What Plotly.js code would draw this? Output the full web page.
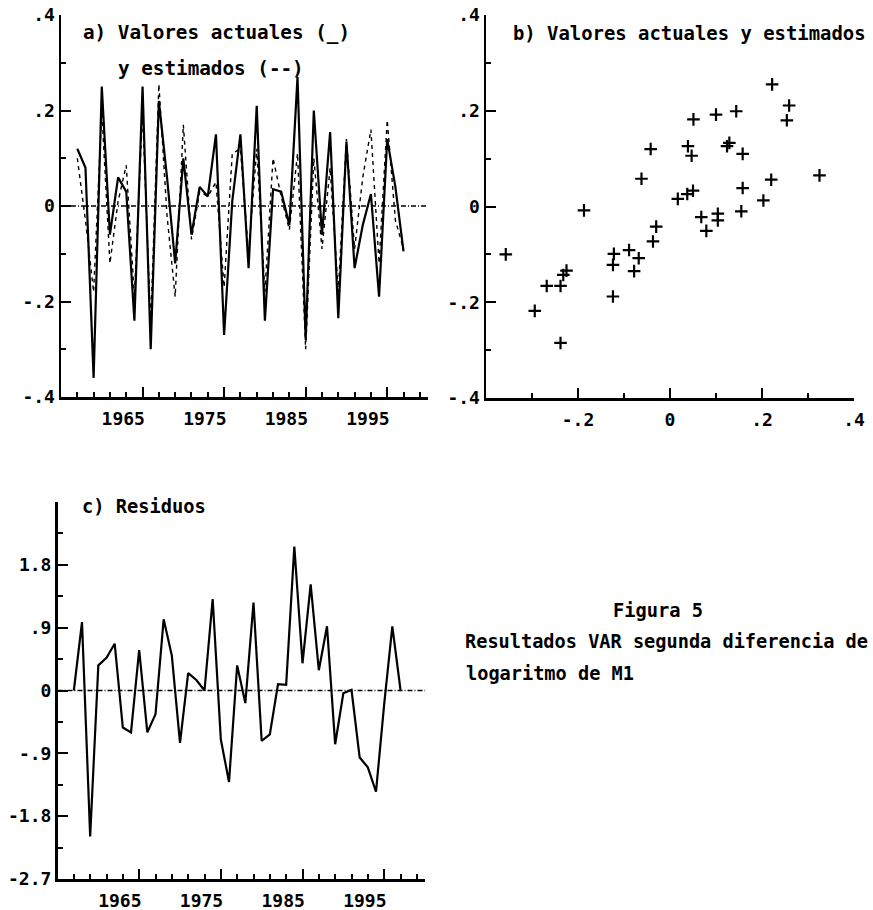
<!DOCTYPE html>
<html><head><meta charset="utf-8">
<script src="https://cdn.plot.ly/plotly-3.0.1.min.js"></script>
<style>html,body{margin:0;padding:0;background:#fff}#chart{width:873px;height:910px}</style>
</head><body><div id="chart"></div>
<script>
// ---------- data ----------
const years = [1959,1960,1961,1962,1963,1964,1965,1966,1967,1968,1969,1970,1971,1972,1973,1974,1975,1976,1977,1978,1979,1980,1981,1982,1983,1984,1985,1986,1987,1988,1989,1990,1991,1992,1993,1994,1995,1996,1997,1998,1999];

const actual = [0.12,0.08,-0.36,0.25,-0.06,0.06,0.03,-0.24,0.25,-0.30,0.22,0.06,-0.12,0.10,-0.06,0.04,0.02,0.15,-0.27,0.01,0.15,-0.13,0.21,-0.24,0.035,0.03,-0.04,0.27,-0.28,0.20,-0.06,0.155,-0.235,0.135,-0.13,-0.04,0.025,-0.19,0.14,0.04,-0.095];

const estimated = [0.10,-0.03,-0.18,0.20,-0.12,0.01,0.085,-0.19,0.20,-0.25,0.255,-0.02,-0.19,0.17,-0.07,0.03,0.02,0.05,-0.17,0.11,0.12,-0.10,0.12,-0.18,0.10,0.02,-0.05,0.11,-0.30,0.10,-0.09,0.08,-0.18,0.14,-0.09,0.06,0.16,-0.12,0.18,-0.03,-0.09];

const residuals = [0,0.98,-2.09,0.36,0.47,0.67,-0.53,-0.6,0.58,-0.6,-0.34,1.02,0.5,-0.75,0.25,0.15,0,1.31,-0.7,-1.31,0.36,-0.18,1.26,-0.72,-0.63,0.09,0.08,2.06,0.39,1.52,0.29,0.92,-0.77,-0.04,0.01,-0.96,-1.1,-1.45,-0.2,0.92,0.01];

const scatterActual = [-0.187,-0.062,-0.042,0.017,0.0375,0.050,0.039,0.047,0.051,0.068,0.100,0.104,0.104,0.124,0.129,0.144,0.158,0.158,0.155,0.203,0.220,0.222,0.254,0.259,0.325,-0.357,-0.294,-0.268,-0.238,-0.238,-0.232,-0.225,-0.124,-0.124,-0.122,-0.089,-0.078,-0.068,-0.037,-0.030,0.079];
const scatterEstimated = [-0.008,0.058,0.120,0.016,0.026,0.033,0.126,0.106,0.182,-0.022,0.192,-0.015,-0.029,0.126,0.133,0.199,0.110,0.0385,-0.010,0.0126,0.056,0.255,0.180,0.211,0.065,-0.100,-0.218,-0.166,-0.166,-0.285,-0.143,-0.134,-0.188,-0.122,-0.099,-0.091,-0.135,-0.108,-0.073,-0.042,-0.051];

// tick labels
const yearTickVals = [1959,1961,1963,1965,1969,1971,1973,1975,1979,1981,1983,1985,1989,1991,1993,1995,1999,2001];
const yearTickText = ['','','','1965','','','','1975','','','','1985','','','','1995','',''];
const yearTallTicks = [1967,1977,1987,1997];

const ab_TickVals = [-0.4,-0.2,0,0.2,0.4];
const ab_TickText = ['-.4','-.2','0','.2','.4'];
const ab_MinorVals = [-0.3,-0.1,0.1,0.3];
const bx_TickVals = [-0.2,0,0.2,0.4];
const bx_TickText = ['-.2','0','.2','.4'];
const c_TickVals = [-2.7,-1.8,-0.9,0,0.9,1.8];
const c_TickText = ['-2.7','-1.8','-.9','0','.9','1.8'];
const c_MinorVals = [-2.25,-1.35,-0.45,0.45,1.35,2.25];

// ---------- layout helpers ----------
const W = 873, H = 910;
const px = v => v / W;
const py = v => 1 - v / H;
const tickFont = {family: 'DejaVu Sans Mono, monospace', size: 18, color: '#000', weight: 'bold'};
const txtFont = s => ({family: 'DejaVu Sans Mono, monospace', size: s, color: '#000', weight: 'bold'});

function baseAxis(extra) {
  return Object.assign({
    showline: true, linewidth: 2.5, linecolor: '#000', mirror: false,
    showgrid: false, zeroline: false, ticks: 'inside', tickwidth: 2, tickcolor: '#000',
    tickmode: 'array', tickfont: tickFont, fixedrange: true
  }, extra);
}
function yearAxis(domain, anchor) {
  return baseAxis({
    domain: domain, anchor: anchor, range: [1957, 2002],
    tickvals: yearTickVals, ticktext: yearTickText, ticklen: 5, ticklabelshift: -3, ticklabelstandoff: 4,
    minor: {tickmode: 'array', tickvals: yearTallTicks, ticklen: 10, tickwidth: 2, ticks: 'inside', tickcolor: '#000'}
  });
}
const minorAB = {tickmode: 'array', tickvals: ab_MinorVals, ticklen: 5, tickwidth: 2, ticks: 'inside', tickcolor: '#000'};

const traces = [
  {x: years, y: actual, type: 'scatter', mode: 'lines', xaxis: 'x', yaxis: 'y',
   line: {color: '#000', width: 2.2}, name: 'actual'},
  {x: years, y: estimated, type: 'scatter', mode: 'lines', xaxis: 'x', yaxis: 'y',
   line: {color: '#000', width: 1.4, dash: '4px,4px'}, name: 'estimated'},
  {x: scatterActual, y: scatterEstimated, type: 'scatter', mode: 'markers', xaxis: 'x2', yaxis: 'y2',
   marker: {symbol: 'cross-thin-open', size: 9, color: '#000', line: {color: '#000', width: 2.2}}, name: 'scatter'},
  {x: years, y: residuals, type: 'scatter', mode: 'lines', xaxis: 'x3', yaxis: 'y3',
   line: {color: '#000', width: 2.2}, name: 'residuos'}
];

const layout = {
  width: W, height: H, showlegend: false,
  margin: {l: 0, r: 0, t: 0, b: 0},
  paper_bgcolor: '#fff', plot_bgcolor: 'rgba(0,0,0,0)',
  font: txtFont(19),
  xaxis: yearAxis([px(61), px(428)], 'y'),
  yaxis: baseAxis({domain: [py(397), py(15)], anchor: 'x', range: [-0.4, 0.4],
    tickvals: ab_TickVals, ticktext: ab_TickText, ticklen: 10, minor: minorAB}),
  xaxis2: baseAxis({domain: [px(486), px(854)], anchor: 'y2', range: [-0.4, 0.4],
    tickvals: bx_TickVals, ticktext: bx_TickText, ticklen: 10, ticklabelstandoff: 4, minor: minorAB}),
  yaxis2: baseAxis({domain: [py(398), py(15)], anchor: 'x2', range: [-0.4, 0.4],
    tickvals: ab_TickVals, ticktext: ab_TickText, ticklen: 10, minor: minorAB}),
  xaxis3: yearAxis([px(57.5), px(425)], 'y3'),
  yaxis3: baseAxis({domain: [py(879), py(502)], anchor: 'x3', range: [-2.7, 2.7],
    tickvals: c_TickVals, ticktext: c_TickText, ticklen: 10,
    minor: {tickmode: 'array', tickvals: c_MinorVals, ticklen: 5, tickwidth: 2, ticks: 'inside', tickcolor: '#000'}}),
  shapes: [
    {type: 'line', xref: 'x domain', yref: 'y', x0: 0, x1: 1, y0: 0, y1: 0, layer: 'below',
     line: {color: '#000', width: 1.3, dash: '5px,2px,1px,2px'}},
    {type: 'line', xref: 'x3 domain', yref: 'y3', x0: 0, x1: 1, y0: 0, y1: 0, layer: 'below',
     line: {color: '#000', width: 1.3, dash: '5px,2px,1px,2px'}}
  ],
  annotations: [
    {text: 'a) Valores actuales (_)', x: px(81), y: py(33), font: txtFont(19.3)},
    {text: 'y estimados (--)', x: px(116), y: py(69), font: txtFont(19.3)},
    {text: 'b) Valores actuales y estimados', x: px(511), y: py(33), font: txtFont(18.9)},
    {text: 'c) Residuos', x: px(80), y: py(506), font: txtFont(18.7)},
    {text: 'Figura 5', x: px(658), y: py(610), xanchor: 'center', font: txtFont(18.7)},
    {text: 'Resultados VAR segunda diferencia de', x: px(463), y: py(641), font: txtFont(18.6)},
    {text: 'logaritmo de M1', x: px(464), y: py(673), font: txtFont(18.6)}
  ].map(a => Object.assign({xref: 'paper', yref: 'paper', xanchor: 'left', yanchor: 'middle',
    showarrow: false}, a))
};

Plotly.newPlot('chart', traces, layout, {displayModeBar: false, staticPlot: true});
</script>
</body></html>
